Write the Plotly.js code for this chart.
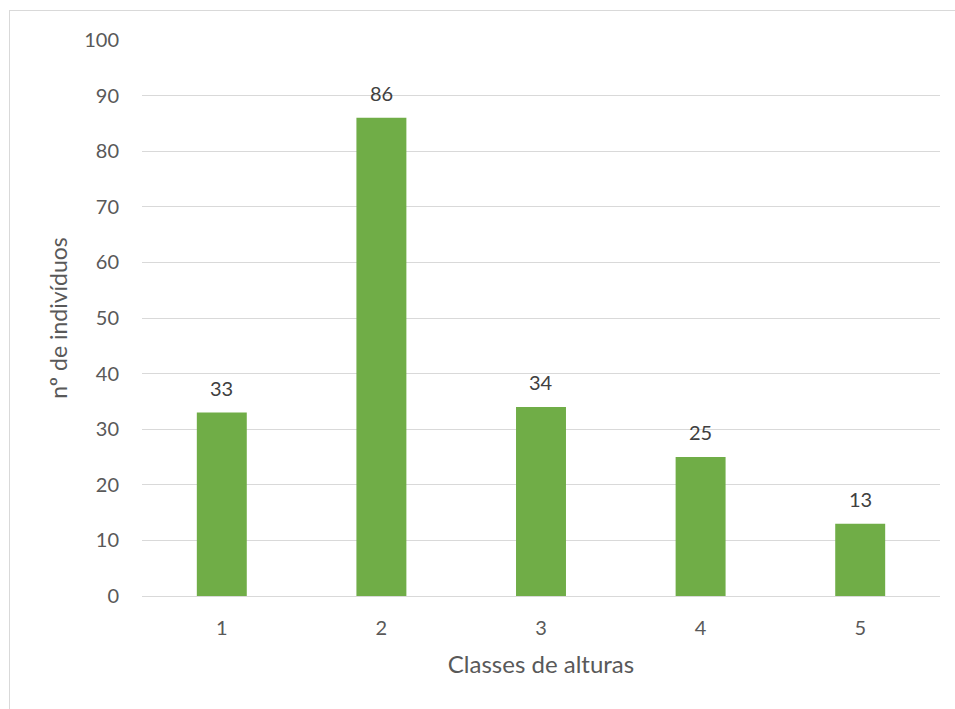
<!DOCTYPE html>
<html>
<head>
<meta charset="utf-8">
<script src="https://cdn.plot.ly/plotly-3.0.1.min.js"></script>
<style>
html,body{margin:0;padding:0;background:#fff;}
#wrap{position:relative;width:955px;height:709px;overflow:hidden;}
#chart{position:absolute;left:0;top:0;width:955px;height:709px;}
#frame{position:absolute;left:9px;top:10px;width:1000px;height:800px;border:1px solid #d9d9d9;box-sizing:border-box;pointer-events:none;}
</style>
</head>
<body>
<div id="wrap"><div id="chart"></div><div id="frame"></div></div>
<script>
const categories = ['1', '2', '3', '4', '5'];
const values = [33, 86, 34, 25, 13];
const yTicks = [0, 10, 20, 30, 40, 50, 60, 70, 80, 90, 100];

const font = 'Lato, "Open Sans", sans-serif';

const trace = {
  type: 'bar',
  x: categories,
  y: values,
  marker: {color: '#70ad47'},
  hoverinfo: 'none'
};

const annotations = categories.map((c, i) => ({
  x: i, y: values[i], xref: 'x', yref: 'y',
  text: String(values[i]), showarrow: false,
  yanchor: 'bottom', yshift: 11,
  font: {family: font, size: 20, color: '#404040'}
}));

const layout = {
  width: 955, height: 709,
  margin: {l: 142, r: 15, t: 40, b: 113},
  paper_bgcolor: '#fff', plot_bgcolor: '#fff',
  bargap: 0.687,
  showlegend: false,
  font: {family: font, size: 20, color: '#595959'},
  xaxis: {
    type: 'category', range: [-0.5, 4.5],
    showgrid: false, showline: true, linecolor: '#d9d9d9', linewidth: 1,
    ticks: '', ticklabelstandoff: 14,
    tickfont: {family: font, size: 20, color: '#595959'},
    title: {text: 'Classes de alturas', standoff: 18, font: {family: font, size: 24, color: '#595959'}}
  },
  yaxis: {
    range: [0, 100], tickvals: yTicks, ticktext: yTicks.map(String),
    showgrid: true, gridcolor: '#d9d9d9', gridwidth: 1,
    zeroline: false, showline: false, ticks: '', ticklabelstandoff: 22,
    tickfont: {family: font, size: 20, color: '#595959'},
    title: {text: 'nº de indivíduos', standoff: 10, font: {family: font, size: 23, color: '#595959'}}
  },
  annotations: annotations
};

Plotly.newPlot('chart', [trace], layout, {displayModeBar: false, staticPlot: true});
</script>
</body>
</html>
